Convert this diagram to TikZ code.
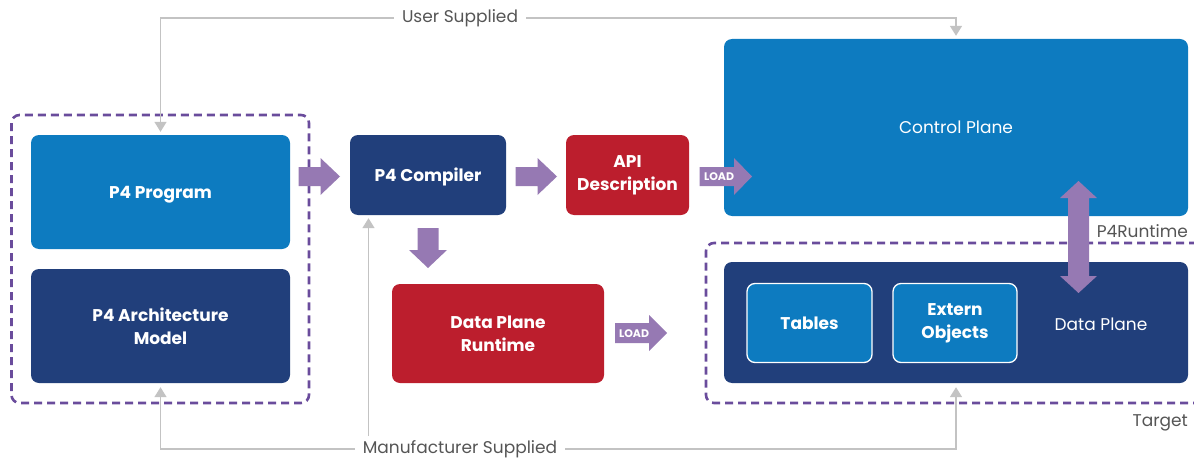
\documentclass[tikz,border=0pt]{standalone}
\usepackage{fontspec}
\setmainfont{Poppins}
\usetikzlibrary{arrows.meta,calc}
\definecolor{cblue}{HTML}{0D7BC0}
\definecolor{cnavy}{HTML}{213F7B}
\definecolor{cred}{HTML}{BC1E2D}
\definecolor{cpurple}{HTML}{9679B3}
\definecolor{cdash}{HTML}{6A4C9C}
\definecolor{cgrayline}{HTML}{C3C3C3}
\definecolor{cgraytext}{HTML}{555555}
\tikzset{
  box/.style={rectangle, rounded corners=8pt, inner sep=0pt, align=center, text=white, font=\fontsize{17}{23}\selectfont\bfseries},
  oneline/.style={text depth=0pt},
  bluebox/.style={box, fill=cblue},
  navybox/.style={box, fill=cnavy},
  redbox/.style={box, fill=cred},
  innerbox/.style={box, fill=cblue, draw=white, line width=1.3pt},
  plainlbl/.style={inner sep=0pt, text=white, font=\fontsize{17}{21}\selectfont},
  graylbl/.style={inner xsep=8pt, inner ysep=2pt, text=cgraytext, font=\fontsize{17}{21}\selectfont},
  grayline/.style={draw=cgrayline, line width=1.6pt, -{Triangle[width=12pt,length=10pt]}},
  dashbox/.style={draw=cdash, line width=2.6pt, dash pattern=on 8pt off 5pt, rounded corners=8pt},
  blockarrow/.style={fill=cpurple},
  loadtxt/.style={inner sep=0pt, text=white, font=\fontsize{11}{12}\selectfont\bfseries}
}
\begin{document}
\begin{tikzpicture}[x=1pt,y=-1pt]
\useasboundingbox (0,0) rectangle (1194,460);
% dashed groups
\draw[dashbox] (11.5,115) rectangle (309,403);
\draw[dashbox] (1210,243) -- (706,243) -- (706,403) -- (1210,403);
% boxes
\node[bluebox, oneline, minimum width=259, minimum height=114] (prog) at (160.5,192) {P4 Program};
\node[navybox, minimum width=259, minimum height=114] (arch) at (160.5,326) {P4 Architecture\\Model};
\node[navybox, oneline, minimum width=156, minimum height=80] (comp) at (428,175) {P4 Compiler};
\node[redbox, minimum width=123, minimum height=80] (api) at (627.5,175) {API\\Description};
\node[redbox, minimum width=212, minimum height=99] (dpr) at (498,333.5) {Data Plane\\Runtime};
\node[bluebox, minimum width=464, minimum height=177] (cp) at (956,127.5) {};
\node[plainlbl] (cptxt) at (cp.center) {Control Plane};
\node[navybox, minimum width=464, minimum height=121] (dp) at (956,322.5) {};
\node[innerbox, oneline, minimum width=125, minimum height=79] (tab) at (809.5,323) {Tables};
\node[innerbox, minimum width=124, minimum height=79] (ext) at (955,323) {Extern\\Objects};
\node[plainlbl] (dptxt) at (1101,324) {Data Plane};
% labels
\node[graylbl] (us) at (460,18) {User Supplied};
\node[graylbl] (ms) at (460,449) {Manufacturer Supplied};
\node[graylbl, inner sep=0pt, anchor=east] (p4rt) at (1188,231) {P4Runtime};
\node[graylbl, inner sep=0pt, anchor=east] (tgt) at (1188,423) {Target};
% gray connectors
\draw[grayline, shorten >=3pt] (us.west) -| (prog.north);
\draw[grayline, shorten >=3pt] (us.east) -| (cp.north);
\draw[grayline, shorten >=4pt] (ms.west) -| (arch.south);
\draw[grayline, shorten >=4pt] (ms.east) -| (dp.south);
\coordinate (mc) at (368.5,436);
\draw[grayline, shorten >=3pt] (mc) -- (mc |- comp.south);
% purple block arrows
\fill[blockarrow] (298.5,167) -- (320.5,167) -- (320.5,158) -- (340,176.5) -- (320.5,195) -- (320.5,186) -- (298.5,186) -- cycle;
\fill[blockarrow] (515.5,167) -- (537.5,167) -- (537.5,158) -- (557,176.5) -- (537.5,195) -- (537.5,186) -- (515.5,186) -- cycle;
\fill[blockarrow] (417.5,228) -- (438.5,228) -- (438.5,250) -- (447,250) -- (428,268) -- (409,250) -- (417.5,250) -- cycle;
\fill[blockarrow] (699.5,167) -- (734,167) -- (734,158) -- (752,176.5) -- (734,195) -- (734,186) -- (699.5,186) -- cycle;
\node[loadtxt] (load1) at (719,177) {LOAD};
\fill[blockarrow] (615,323) -- (649,323) -- (649,315) -- (667,333) -- (649,351) -- (649,343) -- (615,343) -- cycle;
\node[loadtxt] (load2) at (634,333.5) {LOAD};
% double arrow P4Runtime
\fill[blockarrow] (1078.5,181) -- (1097,198) -- (1089,198) -- (1089,276) -- (1097,276) -- (1078.5,293) -- (1060,276) -- (1068,276) -- (1068,198) -- (1060,198) -- cycle;
\end{tikzpicture}
\end{document}
